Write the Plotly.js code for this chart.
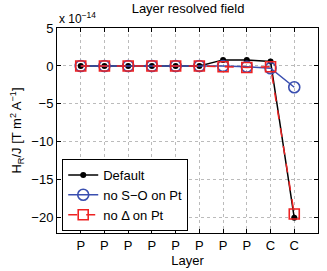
<!DOCTYPE html>
<html><head><meta charset="utf-8">
<script src="https://cdn.plot.ly/plotly-3.0.1.min.js"></script>
<style>body{margin:0;background:#fff}#c{width:327px;height:271px}</style>
</head><body><div id="c"></div>
<script>
const layers = [1,2,3,4,5,6,7,8,9,10];
const layerLabels = ["P","P","P","P","P","P","P","P","C","C"];
const defaultVals = [0,0,0,0,0,0,0.8,0.8,0.6,-20];
const noSOVals = [0,0,0,0,0,0,0,-0.1,-0.3,-2.8];
const noDeltaVals = [0,0,0,0,0,0,-0.1,-0.2,-0.1,-19.5];
const yTicks = [-20,-15,-10,-5,0,5];
const yTickText = ["\u221220","\u221215","\u221210","\u22125","0","5"];

const traces = [
  {x:layers,y:defaultVals,name:"Default",mode:"lines+markers",
   line:{color:"black",width:1.5},marker:{color:"black",size:6,symbol:"circle"}},
  {x:layers,y:noSOVals,name:"no S\u2212O on Pt",mode:"lines+markers",
   line:{color:"#3a4fb0",width:1.5},marker:{color:"#3a4fb0",size:11,symbol:"circle-open",line:{width:1.6}}},
  {x:layers,y:noDeltaVals,name:"no \u0394 on Pt",mode:"lines+markers",
   line:{color:"#ee2222",width:1.5,dash:"dash"},marker:{color:"#ee2222",size:10,symbol:"square-open",line:{width:1.6}}}
];
const layout = {
  width:327,height:271,
  margin:{l:57,r:9,t:28,b:38},
  paper_bgcolor:"white",plot_bgcolor:"white",
  font:{family:"Liberation Sans, Arial, sans-serif",size:13,color:"black"},
  title:{text:"Layer resolved field",x:0.575,xanchor:"center",y:0.985,yanchor:"top",font:{size:13}},
  xaxis:{range:[0,11],tickvals:layers,ticktext:layerLabels,showline:true,linecolor:"black",linewidth:1,mirror:"allticks",
    ticks:"inside",ticklen:4,tickcolor:"black",showgrid:true,gridcolor:"#bbbbbb",griddash:"dot",gridwidth:1,zeroline:false,
    title:{text:"Layer",standoff:2,font:{size:13}},tickfont:{size:13}},
  yaxis:{range:[-22,5],tickvals:yTicks,ticktext:yTickText,showline:true,linecolor:"black",linewidth:1,mirror:"allticks",
    ticks:"inside",ticklen:4,tickcolor:"black",showgrid:true,gridcolor:"#bbbbbb",griddash:"dot",gridwidth:1,zeroline:false,
    title:{text:"H<sub>R</sub>/J [T m<sup>2</sup> A<sup>\u22121</sup>]",standoff:6,font:{size:13}},tickfont:{size:13}},
  legend:{x:0.02,y:0.01,xanchor:"left",yanchor:"bottom",bgcolor:"white",bordercolor:"black",borderwidth:1,
    font:{size:13},tracegroupgap:0,itemwidth:30},
  showlegend:true,
  annotations:[{text:"x 10<sup>\u221214</sup>",xref:"paper",yref:"paper",x:0.0,y:1.0,xanchor:"left",yanchor:"bottom",showarrow:false,font:{size:12}}]
};
Plotly.newPlot("c",traces,layout,{displayModeBar:false,staticPlot:true});
</script></body></html>
